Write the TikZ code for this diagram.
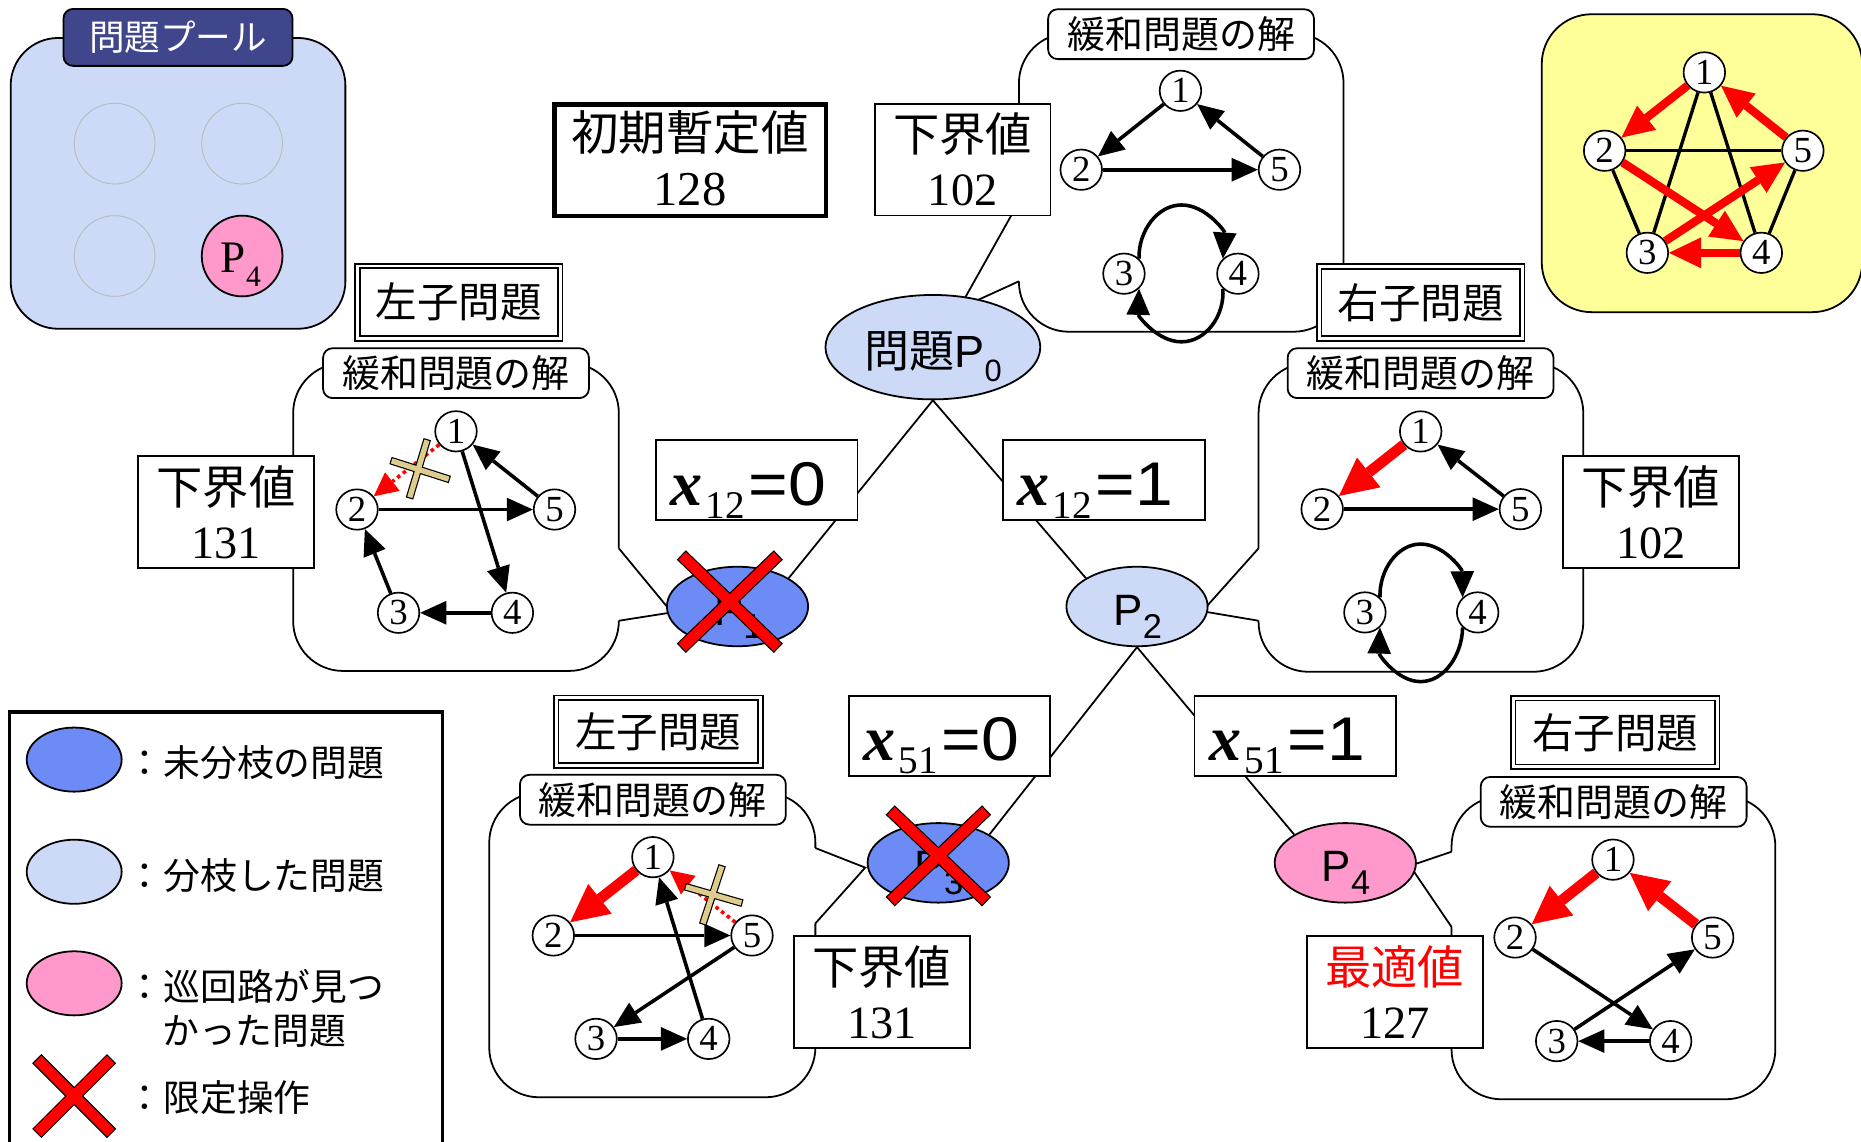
\documentclass[tikz,border=0pt]{standalone}
\usepackage{fontspec}
\setmainfont{Liberation Serif}
\setsansfont{Liberation Sans}
\newfontfamily\jp{Noto Sans CJK JP}
\newfontfamily\wsans[FakeStretch=1.1]{Liberation Sans}
\usetikzlibrary{arrows.meta,shapes.geometric,calc}
\definecolor{lblue}{RGB}{204,218,248}
\definecolor{mblue}{RGB}{109,139,245}
\definecolor{pinkp}{RGB}{255,153,204}
\definecolor{yelbg}{RGB}{255,255,153}
\definecolor{navytab}{RGB}{64,70,140}
\definecolor{tanx}{RGB}{222,204,140}
\newcommand{\myfs}[1]{\fontsize{#1}{#1}\selectfont}
\newcommand{\xlab}[2]{{\bfseries\itshape\myfs{54}x}\hspace{3pt}\raisebox{-11pt}{\myfs{33}#1}\hspace{3pt}{\wsans\myfs{52}=#2}}
\newcommand{\psub}[1]{{\sffamily\myfs{37}P\raisebox{-11pt}{\myfs{29}#1}}}
\tikzset{
  gn/.style={ellipse, draw, line width=1.4pt, fill=white, inner sep=0pt, minimum width=35pt, minimum height=34pt, font=\myfs{31}},
  blk/.style={line width=3pt, -{Triangle[length=22pt,width=20pt,line width=0pt]}},
  plain/.style={line width=2.8pt},
  redar/.style={draw=red, line width=9pt, -{Triangle[length=32pt,width=32pt,line width=0pt]}},
  redarS/.style={draw=red, line width=7pt, -{Triangle[length=27pt,width=26pt,line width=0pt]}},
  reddot/.style={draw=red, line width=3pt, dash pattern=on 3pt off 3pt, -{Triangle[length=20pt,width=20pt,line width=0pt]}},
  cbody/.style={draw, line width=1.5pt, fill=white, rounded corners=42pt},
  ptr/.style={line width=1.5pt},
  tabbox/.style={draw, line width=1.5pt, fill=white, rounded corners=8pt, inner sep=0pt, minimum width=224pt, minimum height=42pt, font=\jp\myfs{32}},
  dbox/.style={draw, double, double distance=2.5pt, line width=1.5pt, fill=white, inner sep=0pt, font=\jp\myfs{35}},
  vbox/.style={draw, line width=1.5pt, fill=white, inner sep=0pt, minimum width=148pt, minimum height=94pt},
  xbox/.style={draw, line width=1.5pt, fill=white, inner sep=0pt, minimum width=170pt, minimum height=67pt},
  tline/.style={line width=1.5pt},
  pell/.style={ellipse, draw, line width=1.5pt, inner sep=0pt, minimum width=119pt, minimum height=67pt},
  txt/.style={inner sep=0pt},
  poolc/.style={ellipse, draw=gray!55, line width=0.7pt, minimum width=68pt, minimum height=68pt, inner sep=0pt},
  xo/.style={line width=11pt},
  xi/.style={draw=red, line width=9pt, shorten <=1pt, shorten >=1pt},
  tano/.style={line width=6.5pt},
  tani/.style={draw=tanx, line width=4.5pt, shorten <=1pt, shorten >=1pt},
  legt/.style={inner sep=0pt, anchor=west, font=\jp\myfs{31}},
}
\begin{document}
\begin{tikzpicture}[x=1pt,y=-1pt]
\useasboundingbox (0,0) rectangle (1568,962);

% ---------- problem pool ----------
\draw[line width=1.5pt, fill=lblue, rounded corners=40pt] (9,32) rectangle (291,277);
\node[draw, line width=1.5pt, fill=navytab, rounded corners=8pt, minimum width=193pt, minimum height=48pt, inner sep=0pt, text=white, font=\jp\myfs{30}] (pooltab) at (150,31.5) {問題プール};
\node[poolc] (pc1) at (96.6,121) {};
\node[poolc] (pc2) at (204,121) {};
\node[poolc] (pc3) at (96.6,215.7) {};
\node[ellipse, draw, line width=1.5pt, fill=pinkp, minimum width=68pt, minimum height=68pt, inner sep=0pt] (pp4) at (204,215.7) {};
\node[txt, anchor=base west] (pp4t) at (186,230) {\myfs{38}P\raisebox{-11.5pt}{\myfs{25}4}};

% ---------- yellow complete graph ----------
\draw[line width=1.5pt, fill=yelbg, rounded corners=42pt] (1299,12) rectangle (1569,263);
\node[gn] (y1) at (1436,61) {1};
\node[gn] (y2) at (1352,127) {2};
\node[gn] (y5) at (1519,127) {5};
\node[gn] (y3) at (1388,213) {3};
\node[gn] (y4) at (1484,213) {4};
\draw[plain] (y1) -- (y3);
\draw[plain] (y1) -- (y4);
\draw[plain] (y2) -- (y5);
\draw[plain] (y2) -- (y3);
\draw[plain] (y5) -- (y4);
\draw[redarS] (y1) -- (y2);
\draw[redarS] (y5) -- (y1);
\draw[redarS] (y2) -- (y4);
\draw[redarS] (y3) -- (y5);
\draw[redarS] (y4) -- (y3);

% ---------- callout bodies ----------
\draw[cbody] (858.5,28) rectangle (1132,279.5);
\fill[white] (860.5,170) -- (858.5,170) -- (808,260) -- (858.5,237) -- (860.5,237) -- cycle;
\draw[ptr] (858.5,170) -- (808,260) -- (858.5,237);
\draw[cbody] (247,306) rectangle (521.4,565.3);
\fill[white] (519.4,462) -- (521.4,462) -- (566,516) -- (521.4,523) -- (519.4,523) -- cycle;
\draw[ptr] (521.4,462) -- (566,516) -- (521.4,523);
\draw[cbody] (1060.4,306) rectangle (1334,566);
\fill[white] (1062.4,462) -- (1060.4,462) -- (1013,515) -- (1060.4,523) -- (1062.4,523) -- cycle;
\draw[ptr] (1060.4,462) -- (1013,515) -- (1060.4,523);
\draw[cbody] (412.2,668) rectangle (687,924.5);
\fill[white] (685,714.5) -- (687,714.5) -- (729,731) -- (687,778) -- (685,778) -- cycle;
\draw[ptr] (687,714.5) -- (729,731) -- (687,778);
\draw[cbody] (1223,671) rectangle (1495.8,926.2);
\fill[white] (1225,717.6) -- (1223,717.6) -- (1188,729.5) -- (1223,781) -- (1225,781) -- cycle;
\draw[ptr] (1223,717.6) -- (1188,729.5) -- (1223,781);

% ---------- tabs ----------
\node[tabbox] (tabA) at (995.1,28.8) {緩和問題の解};
\node[tabbox] (tabB) at (384.2,314.4) {緩和問題の解};
\node[tabbox] (tabC) at (1196.9,314.4) {緩和問題の解};
\node[tabbox] (tabD) at (550.1,673.8) {緩和問題の解};
\node[tabbox] (tabE) at (1359.6,675.6) {緩和問題の解};

% ---------- child labels ----------
\node[dbox, minimum width=171pt, minimum height=61pt] (lcA) at (386.5,254.6) {左子問題};
\node[dbox, minimum width=171pt, minimum height=61pt] (rcA) at (1196.9,254.9) {右子問題};
\node[dbox, minimum width=172pt, minimum height=57pt] (lcB) at (554.6,616.5) {左子問題};
\node[dbox, minimum width=172pt, minimum height=58pt] (rcB) at (1360.8,617.2) {右子問題};

% ---------- graph in P0 callout ----------
\node[gn] (a1) at (994.6,76.5) {1};
\node[gn] (a2) at (911,143) {2};
\node[gn] (a5) at (1078,143) {5};
\node[gn] (a3) at (947,230.6) {3};
\node[gn] (a4) at (1043,230.6) {4};
\draw[blk] (a1) -- (a2);
\draw[blk] (a5) -- (a1);
\draw[blk] (a2) -- (a5);
\draw[blk] (a3.45) .. controls (959,195) and (975,172.7) .. (995.5,172.7) .. controls (1016,172.7) and (1032,195) .. (a4.135);
\draw[blk] (a4.-135) .. controls (1032,266) and (1016,288) .. (995.5,288) .. controls (975,288) and (959,266) .. (a3.-45);

% ---------- graph in left callout ----------
\node[gn] (b1) at (384.2,363.4) {1};
\node[gn] (b2) at (300.8,429.3) {2};
\node[gn] (b5) at (467.2,429.3) {5};
\node[gn] (b3) at (335.8,516.3) {3};
\node[gn] (b4) at (431.7,516.3) {4};
\draw[blk] (b5) -- (b1);
\draw[blk] (b2) -- (b5);
\draw[blk] (b1) -- (b4);
\draw[blk] (b4) -- (b3);
\draw[blk] (b3) -- (b2);
\draw[reddot] (b1) -- (b2);
\draw[tano] (360,370) -- (345,420);
\draw[tano] (329,388) -- (379,404);
\draw[tani] (360,370) -- (345,420);
\draw[tani] (329,388) -- (379,404);

% ---------- graph in right callout ----------
\node[gn] (c1) at (1197,363.5) {1};
\node[gn] (c2) at (1114,429) {2};
\node[gn] (c5) at (1281,429) {5};
\node[gn] (c3) at (1150,516) {3};
\node[gn] (c4) at (1245,516) {4};
\draw[redar] (c1) -- (c2);
\draw[blk] (c5) -- (c1);
\draw[blk] (c2) -- (c5);
\draw[blk] (c3.45) .. controls (1162,480) and (1177.5,458.4) .. (1197,458.4) .. controls (1216.5,458.4) and (1232,480) .. (c4.135);
\draw[blk] (c4.-135) .. controls (1232,552) and (1216.5,574.3) .. (1197,574.3) .. controls (1177.5,574.3) and (1162,552) .. (c3.-45);

% ---------- graph in bottom-left callout ----------
\node[gn] (d1) at (550.1,722.2) {1};
\node[gn] (d2) at (466.2,788.2) {2};
\node[gn] (d5) at (633.6,788.2) {5};
\node[gn] (d3) at (502.2,875.3) {3};
\node[gn] (d4) at (597.1,875.3) {4};
\draw[redar] (d1) -- (d2);
\draw[blk] (d2) -- (d5);
\draw[blk] (d4) -- (d1);
\draw[blk] (d5) -- (d3);
\draw[blk] (d3) -- (d4);
\draw[reddot] (d5) -- (d1);
\draw[tano] (608.5,729) -- (592,779);
\draw[tano] (577,747) -- (625.6,761);
\draw[tani] (608.5,729) -- (592,779);
\draw[tani] (577,747) -- (625.6,761);

% ---------- graph in bottom-right callout ----------
\node[gn] (e1) at (1359,724.3) {1};
\node[gn] (e2) at (1276.5,789.9) {2};
\node[gn] (e5) at (1443,789.9) {5};
\node[gn] (e3) at (1311.6,877.2) {3};
\node[gn] (e4) at (1407.6,877.2) {4};
\draw[redar] (e1) -- (e2);
\draw[redar] (e5) -- (e1);
\draw[blk] (e2) -- (e4);
\draw[blk] (e3) -- (e5);
\draw[blk] (e4) -- (e3);

% ---------- value boxes ----------
\node[draw, line width=4pt, fill=white, inner sep=0pt, minimum width=229pt, minimum height=94pt] (init) at (581.4,134.9) {};
\node[txt, anchor=base, font=\jp\myfs{40}] (initA) at (581.4,127) {初期暫定値};
\node[txt, anchor=base, font=\myfs{41}] (initB) at (581.4,173) {128};

\node[vbox] (lbA) at (811.1,134.5) {};
\node[txt, anchor=base, font=\jp\myfs{39}] (lbA1) at (811.1,128) {下界値};
\node[txt, anchor=base, font=\myfs{39}] (lbA2) at (811.1,173.5) {102};

\node[vbox] (lbB) at (190.4,431.4) {};
\node[txt, anchor=base, font=\jp\myfs{39}] (lbB1) at (190.4,425) {下界値};
\node[txt, anchor=base, font=\myfs{39}] (lbB2) at (190.4,470.4) {131};

\node[vbox] (lbC) at (1390.9,431.4) {};
\node[txt, anchor=base, font=\jp\myfs{39}] (lbC1) at (1390.9,425) {下界値};
\node[txt, anchor=base, font=\myfs{39}] (lbC2) at (1390.9,470.4) {102};

\node[vbox] (lbD) at (743,835.8) {};
\node[txt, anchor=base, font=\jp\myfs{39}] (lbD1) at (743,829.3) {下界値};
\node[txt, anchor=base, font=\myfs{39}] (lbD2) at (743,874.8) {131};

\node[vbox] (opt) at (1175.2,835.8) {};
\node[txt, anchor=base, font=\jp\myfs{39}, text=red] (opt1) at (1175.2,829.3) {最適値};
\node[txt, anchor=base, font=\myfs{39}] (opt2) at (1175.2,874.8) {127};

% ---------- problem ellipses ----------
\node[ellipse, draw, line width=1.5pt, fill=lblue, inner sep=0pt, minimum width=181pt, minimum height=88pt] (P0) at (786,292.5) {};
\node[txt, anchor=base west] (P0t) at (728,309.7) {{\jp\myfs{38}問題}{\sffamily\myfs{38}P\raisebox{-12pt}{\myfs{26}0}}};
\node[pell, fill=mblue] (P1) at (621.4,511) {};
\node[txt, anchor=base west] (P1t) at (601.4,527) {\psub{1}};
\node[pell, fill=lblue] (P2) at (958,511) {};
\node[txt, anchor=base west] (P2t) at (938,527) {\psub{2}};
\node[pell, fill=mblue] (P3) at (790.5,727) {};
\node[txt, anchor=base west] (P3t) at (770.5,743) {\psub{3}};
\node[pell, fill=pinkp] (P4) at (1133.5,727) {};
\node[txt, anchor=base west] (P4t) at (1113.5,743) {\psub{4}};

% ---------- tree lines ----------
\draw[tline] (P0.south) -- (P1.29);
\draw[tline] (P0.south) -- (P2.151);
\draw[tline] (P2.south) -- (P3.29);
\draw[tline] (P2.south) -- (P4.151);

% ---------- branching labels ----------
\node[xbox] (xA) at (637.5,404.3) {};
\node[txt, anchor=base west] (xAt) at (564.6,425.5) {\xlab{12}{0}};
\node[xbox] (xB) at (930,404.3) {};
\node[txt, anchor=base west] (xBt) at (857,425.5) {\xlab{12}{1}};
\node[xbox] (xC) at (800,620) {};
\node[txt, anchor=base west] (xCt) at (727,641) {\xlab{51}{0}};
\node[xbox] (xD) at (1091.5,620) {};
\node[txt, anchor=base west] (xDt) at (1018.5,641) {\xlab{51}{1}};

% ---------- bounding crosses ----------
\draw[xo] (574,467.6) -- (655.8,546.2);
\draw[xo] (655.8,467.6) -- (574,546.2);
\draw[xi] (574,467.6) -- (655.8,546.2);
\draw[xi] (655.8,467.6) -- (574,546.2);
\draw[xo] (750,682.5) -- (831.3,759.7);
\draw[xo] (831.3,682.5) -- (750,759.7);
\draw[xi] (750,682.5) -- (831.3,759.7);
\draw[xi] (831.3,682.5) -- (750,759.7);

% ---------- legend ----------
\draw[line width=3pt] (8,600) rectangle (373,975);
\node[ellipse, draw, line width=1.5pt, fill=mblue, minimum width=80pt, minimum height=54pt, inner sep=0pt] (lg1) at (62.5,640) {};
\node[ellipse, draw, line width=1.5pt, fill=lblue, minimum width=80pt, minimum height=54pt, inner sep=0pt] (lg2) at (62.5,734.5) {};
\node[ellipse, draw, line width=1.5pt, fill=pinkp, minimum width=80pt, minimum height=54pt, inner sep=0pt] (lg3) at (62.5,828.5) {};
\node[legt] (lt1) at (106.5,642.4) {：未分枝の問題};
\node[legt] (lt2) at (106.5,737.6) {：分枝した問題};
\node[legt] (lt3) at (106.5,831.4) {：巡回路が見つ};
\node[legt] (lt3b) at (136.5,869.3) {かった問題};
\node[legt] (lt4) at (106.5,925.2) {：限定操作};
\draw[xo] (31,892) -- (94,955);
\draw[xo] (94,892) -- (31,955);
\draw[xi] (31,892) -- (94,955);
\draw[xi] (94,892) -- (31,955);
\end{tikzpicture}
\end{document}
